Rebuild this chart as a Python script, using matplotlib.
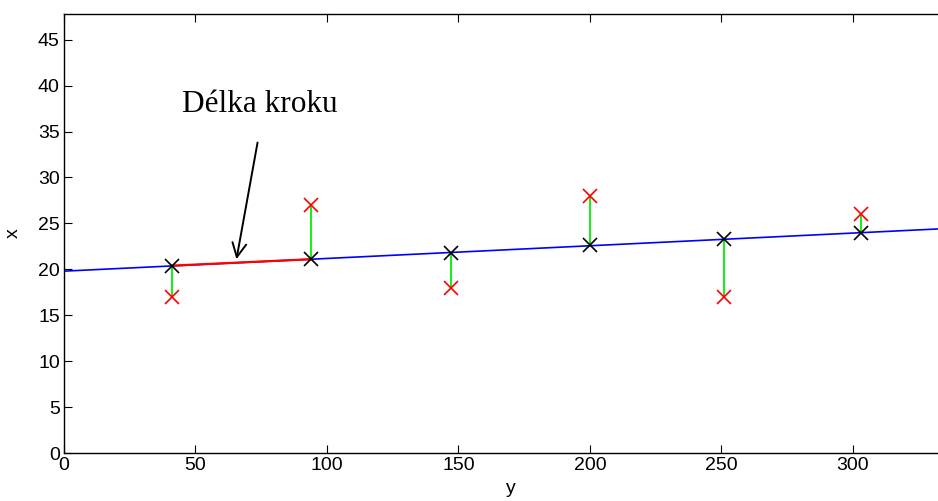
import matplotlib
matplotlib.use('Agg')
import matplotlib.pyplot as plt

# fitted line (start/end)
lineX = [0, 340]
lineY = [19.8, 24.5]

# step positions on the line and measured values
stepX = [41, 94, 147, 200, 251, 303]
stepY = [20.4, 21.1, 21.8, 22.6, 23.3, 24.0]
measY = [17, 27, 18, 28, 17, 26]

xTicks = [0, 50, 100, 150, 200, 250, 300]
yTicks = [0, 5, 10, 15, 20, 25, 30, 35, 40, 45]

plt.rcParams['font.family'] = ['Liberation Sans', 'DejaVu Sans']

fig = plt.figure(figsize=(9.38, 5.01), dpi=100)
# axes runs past the right edge of the picture, like the original crop
ax = fig.add_axes([64 / 938, 48 / 501, 894 / 938, 439 / 501])

ax.plot(lineX, lineY, color='blue', linewidth=1.2, zorder=2)
ax.plot(stepX[0:2], stepY[0:2], color='red', linewidth=1.6, zorder=3)

for xv, ys, ym in zip(stepX, stepY, measY):
  ax.plot([xv, xv], [ys, ym], color='#00ee00', linewidth=1.3, zorder=2)

ax.plot(stepX, measY, 'x', color='red', markersize=10, markeredgewidth=1.2, zorder=4)
ax.plot(stepX, stepY, 'x', color='black', markersize=10, markeredgewidth=1.2, zorder=4)

ax.annotate('', xy=(65.4, 20.8), xytext=(73.8, 34.1),
            arrowprops=dict(arrowstyle='->,head_length=1.0,head_width=0.5', color='black', lw=1.4))
ax.text(74.3, 38.0, 'Délka kroku', fontsize=22.5, ha='center', va='center',
        family=['Liberation Serif', 'DejaVu Serif'])

ax.set_xlim(0, 340)
ax.set_ylim(0, 47.8)
ax.set_xticks(xTicks)
ax.set_yticks(yTicks)
ax.tick_params(direction='in', top=True, right=False, labelsize=14, length=6, width=0.8, pad=3)
ax.spines['right'].set_visible(False)
for s in ['left', 'bottom', 'top']:
  ax.spines[s].set_linewidth(1.0)
ax.set_xlabel('y', fontsize=14, labelpad=4)
ax.set_ylabel('x', fontsize=14, labelpad=12)

fig.savefig('out.png', dpi=100)
